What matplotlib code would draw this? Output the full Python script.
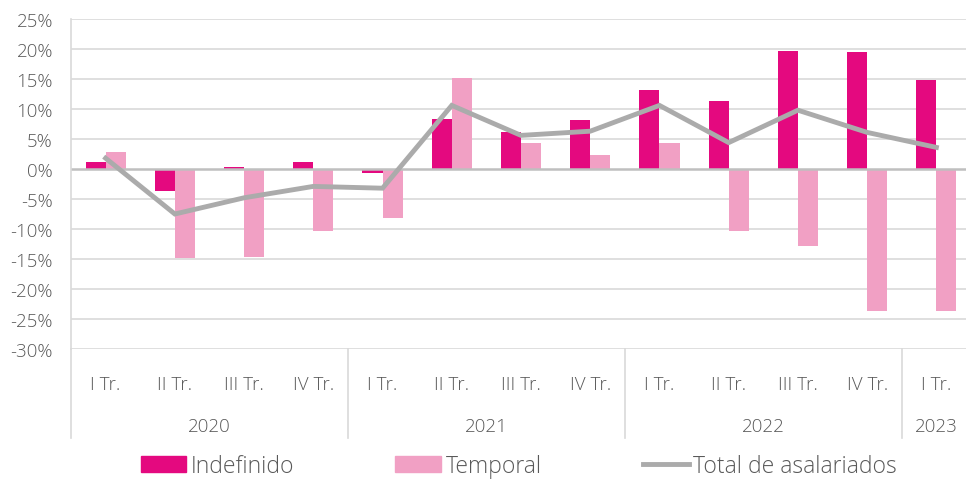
import numpy as np
import matplotlib.pyplot as plt
from matplotlib.patches import Patch
from matplotlib.lines import Line2D

quarters = ["I Tr.", "II Tr.", "III Tr.", "IV Tr.",
            "I Tr.", "II Tr.", "III Tr.", "IV Tr.",
            "I Tr.", "II Tr.", "III Tr.", "IV Tr.",
            "I Tr."]
years = ["2020", "2021", "2022", "2023"]
year_sizes = [4, 4, 4, 1]

indefinido = [1.1, -3.7, 0.3, 1.2, -0.6, 8.4, 6.1, 8.2, 13.1, 11.3, 19.6, 19.5, 14.9]
temporal = [2.8, -14.8, -14.6, -10.3, -8.2, 15.1, 4.4, 2.3, 4.4, -10.3, -12.8, -23.7, -23.7]
total = [1.8, -7.5, -4.8, -2.9, -3.2, 10.6, 5.6, 6.3, 10.6, 4.4, 9.8, 6.1, 3.6]

c_ind = "#E4097F"
c_tmp = "#F1A0C4"
c_tot = "#ABABAB"
c_grid = "#D9D9D9"
c_text = "#595959"

plt.rcParams['font.family'] = ['Open Sans', 'DejaVu Sans']
plt.rcParams['font.weight'] = 'light'

fig = plt.figure(figsize=(9.66, 4.81), dpi=100)
ax = fig.add_axes([71 / 966, 131 / 481, 900 / 966, 330 / 481])

x = np.arange(len(quarters))
w = 0.29
ax.bar(x - w / 2, indefinido, w, color=c_ind, zorder=2)
ax.bar(x + w / 2, temporal, w, color=c_tmp, zorder=2)
ax.plot(x, total, color=c_tot, lw=3.5, zorder=3, solid_joinstyle='miter')

ax.set_xlim(-0.5, len(quarters) - 0.5)
ax.set_ylim(-30, 25)
yt = np.arange(-30, 26, 5)
ax.set_yticks(yt)
ax.set_yticklabels([f"{v}%" for v in yt], fontsize=13.5, color=c_text)
for v in yt:
    if v != 0:
        ax.axhline(v, color=c_grid, lw=1.2, zorder=1)
ax.axhline(0, color="#BFBFBF", lw=1.8, zorder=2.5)

for s in ["top", "right", "bottom"]:
    ax.spines[s].set_visible(False)
ax.spines["left"].set_color(c_grid)
ax.spines["left"].set_linewidth(1.2)
ax.tick_params(axis="y", length=0, pad=13)

ax.set_xticks(x)
ax.set_xticklabels(quarters, fontsize=13.5, color=c_text)
ax.tick_params(axis="x", length=0, pad=19)

# year groups
trans = ax.get_xaxis_transform()
start = 0
bounds = [-0.5]
for yr, n in zip(years, year_sizes):
    ax.text(start + (n - 1) / 2, -0.232, yr, transform=trans, ha="center",
            va="center", fontsize=13.5, color=c_text)
    start += n
    bounds.append(start - 0.5)
for b in bounds[:-1]:
    ax.add_line(Line2D([b, b], [0, -0.27], transform=trans, color=c_grid,
                       lw=1.2, clip_on=False))

handles = [Patch(color=c_ind), Patch(color=c_tmp), Line2D([], [], color=c_tot, lw=3.5)]
fig.legend(handles, ["Indefinido", "Temporal", "Total de asalariados"],
           loc="center", bbox_to_anchor=(0.537, 0.03), ncol=3, frameon=False,
           fontsize=16.5, labelcolor=c_text, columnspacing=4.4, handlelength=2.0,
           handleheight=0.7, handletextpad=0.2, borderpad=0.1)

fig.savefig("out.png", dpi=100)
